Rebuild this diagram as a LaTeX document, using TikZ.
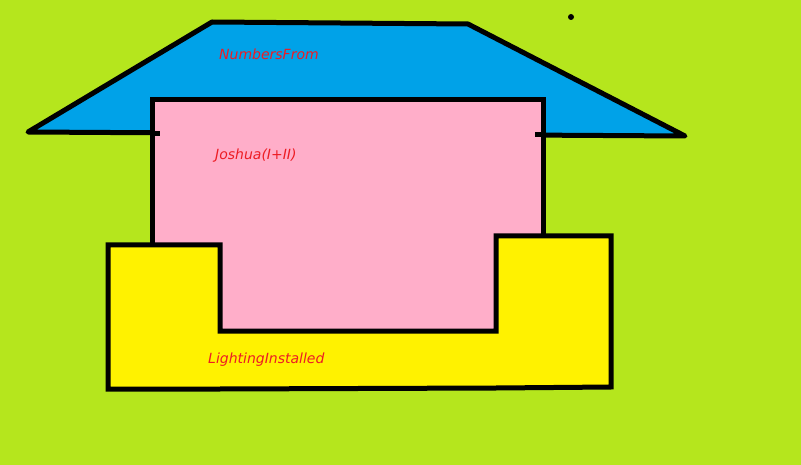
\documentclass[tikz,border=0pt]{standalone}
\usepackage{fontspec}
\newfontfamily\labelfont{DejaVu Sans}
\definecolor{bgcol}{HTML}{B5E61D}
\definecolor{roofcol}{HTML}{00A2E8}
\definecolor{wallcol}{HTML}{FFAEC9}
\definecolor{basecol}{HTML}{FFF200}
\definecolor{txtcol}{HTML}{ED1C24}
\tikzset{
  edge/.style={line width=5pt, line join=miter, line cap=rect, draw=black},
  lbl/.style={anchor=west, inner sep=0pt, text=txtcol, font=\labelfont\itshape\fontsize{14}{16}\selectfont}
}
\begin{document}
\begin{tikzpicture}[x=1pt,y=-1pt]
\fill[bgcol] (0,0) rectangle (801,465);
\useasboundingbox (0,0) rectangle (801,465);
% roof
\filldraw[edge, fill=roofcol, line join=round] (28,132) -- (212,22) -- (468,24) -- (685,136) -- cycle;
% wall
\fill[wallcol] (152,100) rectangle (543,331);
\draw[edge] (152,245) -- (152,100) -- (543,100) -- (543,236);
\draw[edge, line cap=butt] (152,134) -- (160,134);
\draw[edge, line cap=butt] (535,135) -- (543,135);
% base (U shape)
\filldraw[edge, fill=basecol] (108,245) -- (220,245) -- (220,331) -- (496,331) -- (496,236)
  -- (611,236) -- (611,387) -- (496,388) -- (220,389) -- (108,389) -- cycle;
% dot
\fill[black] (571,17) circle (3);
% labels
\node[lbl] (roof) at (219,54) {NumbersFrom};
\node[lbl] (wall) at (215,156) {Joshua(I+II)};
\node[lbl] (base) at (208,360) {LightingInstalled};
\end{tikzpicture}
\end{document}
